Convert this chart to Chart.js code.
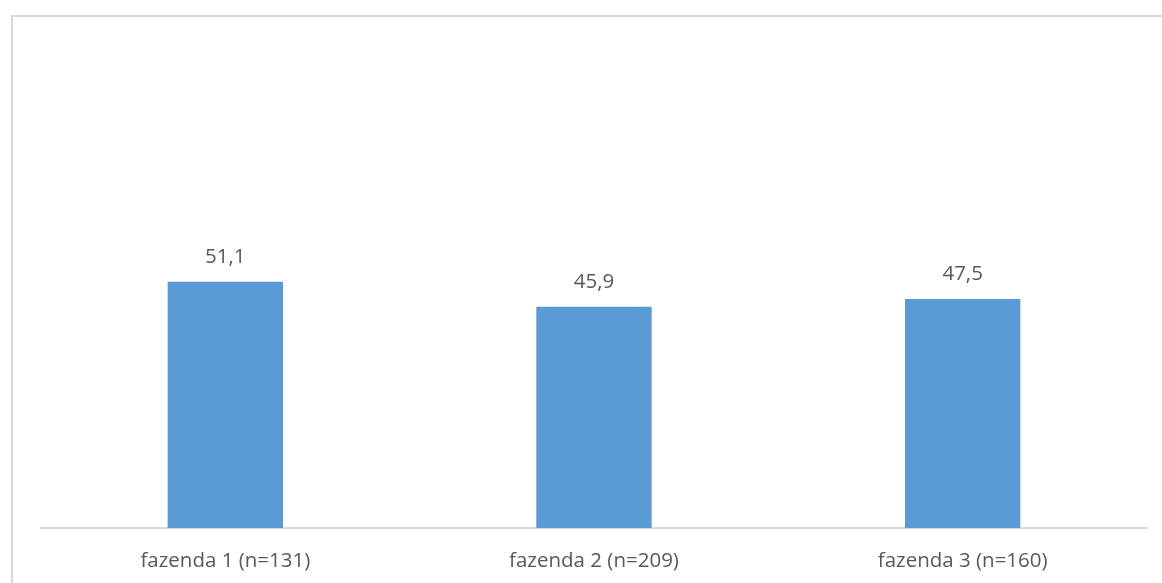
<!DOCTYPE html>
<html>
<head>
<meta charset="utf-8">
<script src="https://cdn.jsdelivr.net/npm/chart.js@4/dist/chart.umd.min.js"></script>
<style>
  html, body { margin: 0; padding: 0; background: #fff; overflow: hidden; }
  #wrap { position: relative; width: 1162px; height: 583px; overflow: hidden; }
</style>
</head>
<body>
<div id="wrap"><canvas id="c" width="1162" height="583"></canvas></div>
<script>
const categories = ['fazenda 1 (n=131)', 'fazenda 2 (n=209)', 'fazenda 3 (n=160)'];
const values = [51.1, 45.9, 47.5];
const yMin = 0;
const yMax = 100;

const FONT = '"Open Sans", "Noto Sans", sans-serif';
const TEXT = '#595959';

// Light frame around the chart object (left and top edges are in view)
const framePlugin = {
  id: 'frame',
  beforeDraw(chart) {
    const ctx = chart.ctx;
    ctx.save();
    ctx.strokeStyle = '#d9d9d9';
    ctx.lineWidth = 2;
    ctx.beginPath();
    ctx.moveTo(12, 583);
    ctx.lineTo(12, 16);
    ctx.lineTo(1162, 16);
    ctx.stroke();
    ctx.restore();
  }
};

// Value labels above each bar, decimal comma
const valueLabels = {
  id: 'valueLabels',
  afterDatasetsDraw(chart) {
    const ctx = chart.ctx;
    const meta = chart.getDatasetMeta(0);
    ctx.save();
    ctx.font = '20.5px ' + FONT;
    ctx.fillStyle = TEXT;
    ctx.textAlign = 'center';
    ctx.textBaseline = 'middle';
    meta.data.forEach((bar, i) => {
      const txt = values[i].toFixed(1).replace('.', ',');
      ctx.fillText(txt, bar.x, bar.y - 25);
    });
    ctx.restore();
  }
};

new Chart(document.getElementById('c'), {
  type: 'bar',
  data: {
    labels: categories,
    datasets: [{
      data: values,
      backgroundColor: '#5B9BD5',
      borderWidth: 0,
      categoryPercentage: 1,
      barPercentage: 0.313
    }]
  },
  options: {
    responsive: false,
    animation: false,
    layout: { padding: { left: 41, right: 15, top: 46, bottom: 0 } },
    plugins: { legend: { display: false }, tooltip: { enabled: false } },
    scales: {
      y: { display: false, min: yMin, max: yMax },
      x: {
        grid: { display: false, drawTicks: false },
        border: { display: true, color: '#d9d9d9', width: 2 },
        ticks: { color: TEXT, font: { family: FONT, size: 20.5 }, padding: 21 },
        afterFit(scale) { scale.height = 55; }
      }
    }
  },
  plugins: [framePlugin, valueLabels]
});
</script>
</body>
</html>
